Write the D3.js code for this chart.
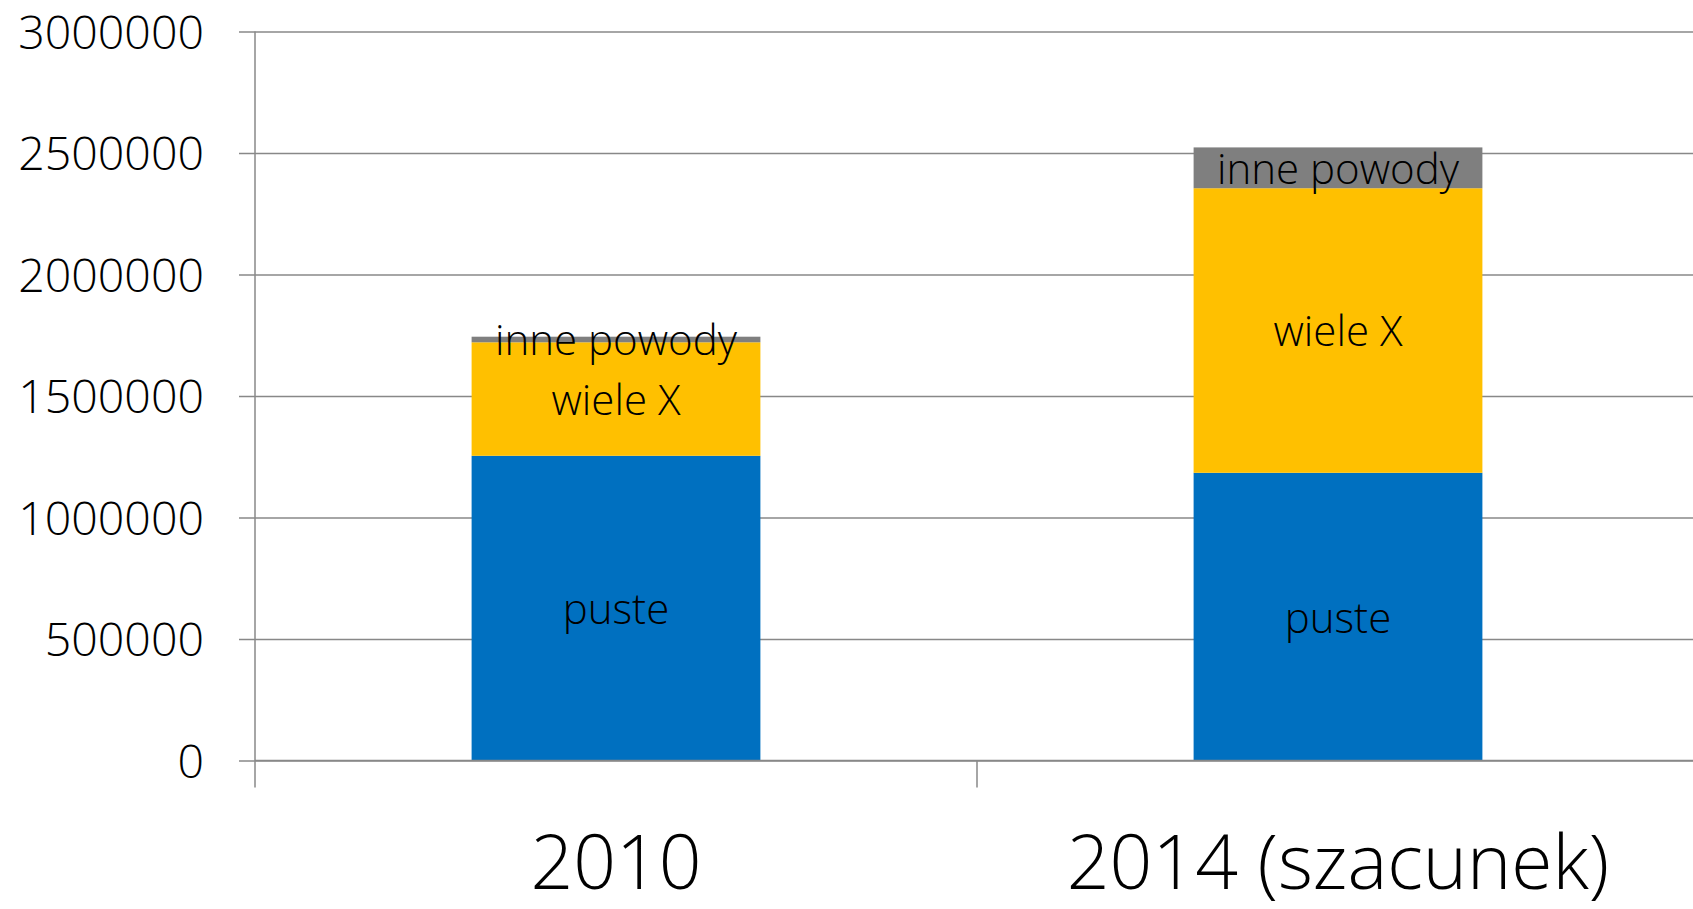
<!DOCTYPE html>
<html>
<head>
<meta charset="utf-8">
<script src="https://cdn.jsdelivr.net/npm/d3@7"></script>
<style>
  html, body { margin: 0; padding: 0; background: #fff; }
  svg { display: block; font-family: "Open Sans", "Noto Sans", sans-serif; font-weight: 300; }
</style>
</head>
<body>
<svg id="chart" width="1693" height="909"></svg>
<script>
// ===== DADOS =====
const categories = ["2010", "2014 (szacunek)"];
const seriesNames = ["puste", "wiele X", "inne powody"];
const puste = [1254000, 1184000];
const wieleX = [467000, 1171000];
const innePowody = [23000, 168000];
const yTicks = [0, 500000, 1000000, 1500000, 2000000, 2500000, 3000000];
const colors = ["#0070C0", "#FFC000", "#7F7F7F"];

const rows = categories.map((c, i) => ({
  cat: c,
  "puste": puste[i],
  "wiele X": wieleX[i],
  "inne powody": innePowody[i]
}));

// ===== ESCALAS =====
const plot = { left: 255, top: 31.5, bottom: 760.5, catWidth: 722 };

const x = d3.scaleBand()
  .domain(categories)
  .range([plot.left, plot.left + plot.catWidth * categories.length])
  .paddingInner(0.6)
  .paddingOuter(0.3);

const y = d3.scaleLinear()
  .domain([0, 3000000])
  .range([plot.bottom, plot.top]);

const svg = d3.select("#chart");

// linhas de grade + rótulos do eixo y
const yAxis = d3.axisLeft(y)
  .tickValues(yTicks)
  .tickFormat(d3.format("d"))
  .tickSize(-(1693 - plot.left))
  .tickPadding(51);

const gy = svg.append("g")
  .attr("transform", `translate(${plot.left},0)`)
  .call(yAxis);
gy.select(".domain").remove();
gy.selectAll(".tick line")
  .attr("x1", -16)
  .attr("stroke", "#888")
  .attr("stroke-width", 1.5);
gy.selectAll(".tick text")
  .attr("font-size", 46.5)
  .attr("font-family", "'Open Sans', 'Noto Sans', sans-serif")
  .attr("font-weight", 300)
  .attr("fill", "#000")
  .attr("dy", "0.36em");

// ===== BARRAS =====
const stacked = d3.stack().keys(seriesNames)(rows);

const layers = svg.append("g")
  .selectAll("g")
  .data(stacked)
  .join("g")
  .attr("fill", (d, i) => colors[i]);

layers.selectAll("rect")
  .data(d => d)
  .join("rect")
  .attr("x", d => x(d.data.cat))
  .attr("width", x.bandwidth())
  .attr("y", d => y(d[1]))
  .attr("height", d => y(d[0]) - y(d[1]));

// eixo y (linha vertical) e eixo x
svg.append("line")
  .attr("x1", plot.left).attr("x2", plot.left)
  .attr("y1", y(3000000)).attr("y2", plot.bottom + 27)
  .attr("stroke", "#888").attr("stroke-width", 1.5);

const xAxis = d3.axisBottom(x).tickSize(0).tickPadding(0);
const gx = svg.append("g")
  .attr("transform", `translate(0,${plot.bottom})`)
  .call(xAxis);
gx.select(".domain").remove();
gx.selectAll(".tick text")
  .attr("font-size", 75)
  .attr("font-family", "'Open Sans', 'Noto Sans', sans-serif")
  .attr("font-weight", 300)
  .attr("fill", "#000")
  .attr("dy", null)
  .attr("y", 128);

svg.append("line")
  .attr("x1", plot.left).attr("x2", 1693)
  .attr("y1", plot.bottom).attr("y2", plot.bottom)
  .attr("stroke", "#888").attr("stroke-width", 1.5);

// divisores de categoria
svg.append("g")
  .selectAll("line")
  .data(categories.slice(1))
  .join("line")
  .attr("x1", d => x(d) - x.step() * x.paddingInner() / 2)
  .attr("x2", d => x(d) - x.step() * x.paddingInner() / 2)
  .attr("y1", plot.bottom)
  .attr("y2", plot.bottom + 27)
  .attr("stroke", "#888").attr("stroke-width", 1.5);

// ===== RÓTULOS =====
layers.selectAll("text")
  .data(d => d.map(v => ({ v, key: d.key })))
  .join("text")
  .attr("x", d => x(d.v.data.cat) + x.bandwidth() / 2)
  .attr("y", d => (y(d.v[0]) + y(d.v[1])) / 2)
  .attr("text-anchor", "middle")
  .attr("dy", "0.38em")
  .attr("font-size", 42)
  .attr("fill", "#000")
  .text(d => d.key);
</script>
</body>
</html>
